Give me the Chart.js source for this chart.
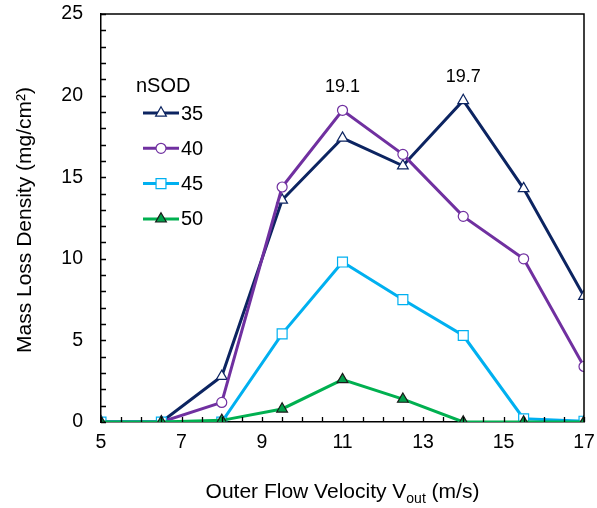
<!DOCTYPE html>
<html>
<head>
<meta charset="utf-8">
<script src="https://cdn.jsdelivr.net/npm/chart.js@4.4.1/dist/chart.umd.min.js"></script>
<style>
  body { margin: 0; background: #fff; }
  #wrap { width: 597px; height: 508px; }
</style>
</head>
<body>
<div id="wrap"><canvas id="myChart" width="597" height="508"></canvas></div>
<script>
// Outer flow velocity (m/s)
var velocity = [5, 6.5, 8, 9.5, 11, 12.5, 14, 15.5, 17];
// mass loss density (mg/cm2) per nSOD
var nsod35 = [0, 0, 2.8, 13.6, 17.4, 15.7, 19.7, 14.3, 7.7];
var nsod40 = [0, 0, 1.2, 14.4, 19.1, 16.4, 12.6, 10.0, 3.4];
var nsod45 = [0, 0, 0, 5.4, 9.8, 7.5, 5.3, 0.2, 0.05];
var nsod50 = [0, 0, 0.1, 0.8, 2.6, 1.4, 0, 0, 0];
var seriesNames = ["35", "40", "45", "50"];
var peakLabels = [{ x: 11, y: 19.1, text: "19.1" }, { x: 14, y: 19.7, text: "19.7" }];
var xTicks = [5, 7, 9, 11, 13, 15, 17];
var yTicks = [0, 5, 10, 15, 20, 25];

var FONT = "'Liberation Sans', Arial, sans-serif";

function pts(arr) {
  return arr.map(function (v, i) { return { x: velocity[i], y: v }; });
}

function ds(name, data, color, style, fill, ord) {
  var r = 5;
  if (style === "rect") r = 7;
  if (style === "triangle") r = 6.2;
  return {
    label: name,
    data: pts(data),
    borderColor: color,
    backgroundColor: color,
    borderWidth: 3,
    pointStyle: style,
    pointRadius: r,
    pointBackgroundColor: fill,
    pointBorderColor: style === "triangle" && fill !== "#fff" ? "#1a1a1a" : color,
    pointBorderWidth: 1.2,
    tension: 0,
    order: ord
  };
}

var boxPlugin = {
  id: "boxPlugin",
  afterDraw: function (chart) {
    var ctx = chart.ctx;
    var a = chart.chartArea;
    var xs = chart.scales.x, ys = chart.scales.y;
    ctx.save();
    // frame top/right
    ctx.strokeStyle = "#000";
    ctx.lineWidth = 1.5;
    ctx.beginPath();
    ctx.moveTo(a.left, a.top);
    ctx.lineTo(a.right, a.top);
    ctx.lineTo(a.right, a.bottom);
    ctx.stroke();
    // inside tick marks
    ctx.lineWidth = 1.3;
    ctx.beginPath();
    for (var v = 5; v <= 17.001; v += 0.5) {
      var px = Math.round(xs.getPixelForValue(v)) + 0.5;
      ctx.moveTo(px, a.bottom);
      ctx.lineTo(px, a.bottom - 5);
    }
    for (var w = 0; w <= 25; w += 1) {
      var py = Math.round(ys.getPixelForValue(w)) + 0.5;
      ctx.moveTo(a.left, py);
      ctx.lineTo(a.left + 5, py);
    }
    ctx.stroke();

    // peak labels
    ctx.fillStyle = "#000";
    ctx.font = "18px " + FONT;
    ctx.textAlign = "center";
    ctx.textBaseline = "middle";
    peakLabels.forEach(function (p) {
      ctx.fillText(p.text, xs.getPixelForValue(p.x), ys.getPixelForValue(p.y) - 23);
    });

    // legend
    ctx.font = "20px " + FONT;
    ctx.textAlign = "left";
    ctx.fillText("nSOD", 136, 86);
    chart.data.datasets.forEach(function (d, i) {
      var y = 113 + i * 35.3;
      ctx.strokeStyle = d.borderColor;
      ctx.lineWidth = 3;
      ctx.beginPath();
      ctx.moveTo(143, y);
      ctx.lineTo(179, y);
      ctx.stroke();
      ctx.fillStyle = d.pointBackgroundColor;
      ctx.strokeStyle = d.pointBorderColor;
      ctx.lineWidth = d.pointBorderWidth;
      Chart.helpers.drawPoint(ctx, { pointStyle: d.pointStyle, radius: d.pointRadius, borderWidth: d.pointBorderWidth, rotation: 0 }, 161, y);
      ctx.fillStyle = "#000";
      ctx.fillText(d.label, 181, y + 1);
    });

    // x title with subscript
    var t1 = "Outer Flow Velocity V", t2 = "out", t3 = " (m/s)";
    ctx.font = "21px " + FONT;
    var w1 = ctx.measureText(t1).width, w3 = ctx.measureText(t3).width;
    ctx.font = "14px " + FONT;
    var w2 = ctx.measureText(t2).width;
    var cx = (a.left + a.right) / 2;
    var sx = cx - (w1 + w2 + w3) / 2;
    var base = 498;
    ctx.textBaseline = "alphabetic";
    ctx.font = "21px " + FONT;
    ctx.fillText(t1, sx, base);
    ctx.font = "14px " + FONT;
    ctx.fillText(t2, sx + w1, base + 5);
    ctx.font = "21px " + FONT;
    ctx.fillText(t3, sx + w1 + w2, base);

    // y title
    ctx.translate(25, (a.top + a.bottom) / 2 + 2);
    ctx.rotate(-Math.PI / 2);
    ctx.textAlign = "center";
    ctx.textBaseline = "middle";
    ctx.font = "21px " + FONT;
    ctx.fillText("Mass Loss Density (mg/cm\u00B2)", 0, 0);
    ctx.restore();
  }
};

new Chart("myChart", {
  type: "line",
  data: {
    datasets: [
      ds(seriesNames[0], nsod35, "#0c2461", "triangle", "#fff", 3),
      ds(seriesNames[1], nsod40, "#7030a0", "circle", "#fff", 2),
      ds(seriesNames[2], nsod45, "#00b0f0", "rect", "#fff", 1),
      ds(seriesNames[3], nsod50, "#00b050", "triangle", "#00a04a", 0)
    ]
  },
  plugins: [boxPlugin],
  options: {
    responsive: false,
    animation: false,
    layout: { padding: { left: 0, right: 13, top: 14, bottom: 0 } },
    plugins: {
      legend: { display: false },
      tooltip: { enabled: false }
    },
    scales: {
      x: {
        type: "linear",
        min: 5,
        max: 17,
        afterBuildTicks: function (s) { s.ticks = xTicks.map(function (v) { return { value: v }; }); },
        afterFit: function (s) { s.height = 86; s.paddingLeft = 0; s.paddingRight = 0; },
        grid: { display: false, drawTicks: false },
        border: { display: true, color: "#000", width: 1.5 },
        ticks: { color: "#000", font: { family: FONT, size: 19.5 }, padding: 9, maxRotation: 0 }
      },
      y: {
        min: 0,
        max: 25,
        afterBuildTicks: function (s) { s.ticks = yTicks.map(function (v) { return { value: v }; }); },
        afterFit: function (s) { s.width = 101; s.paddingTop = 0; s.paddingBottom = 0; },
        grid: { display: false, drawTicks: false },
        border: { display: true, color: "#000", width: 1.5 },
        ticks: { color: "#000", font: { family: FONT, size: 19.5 }, padding: 18 }
      }
    }
  }
});
</script>
</body>
</html>
